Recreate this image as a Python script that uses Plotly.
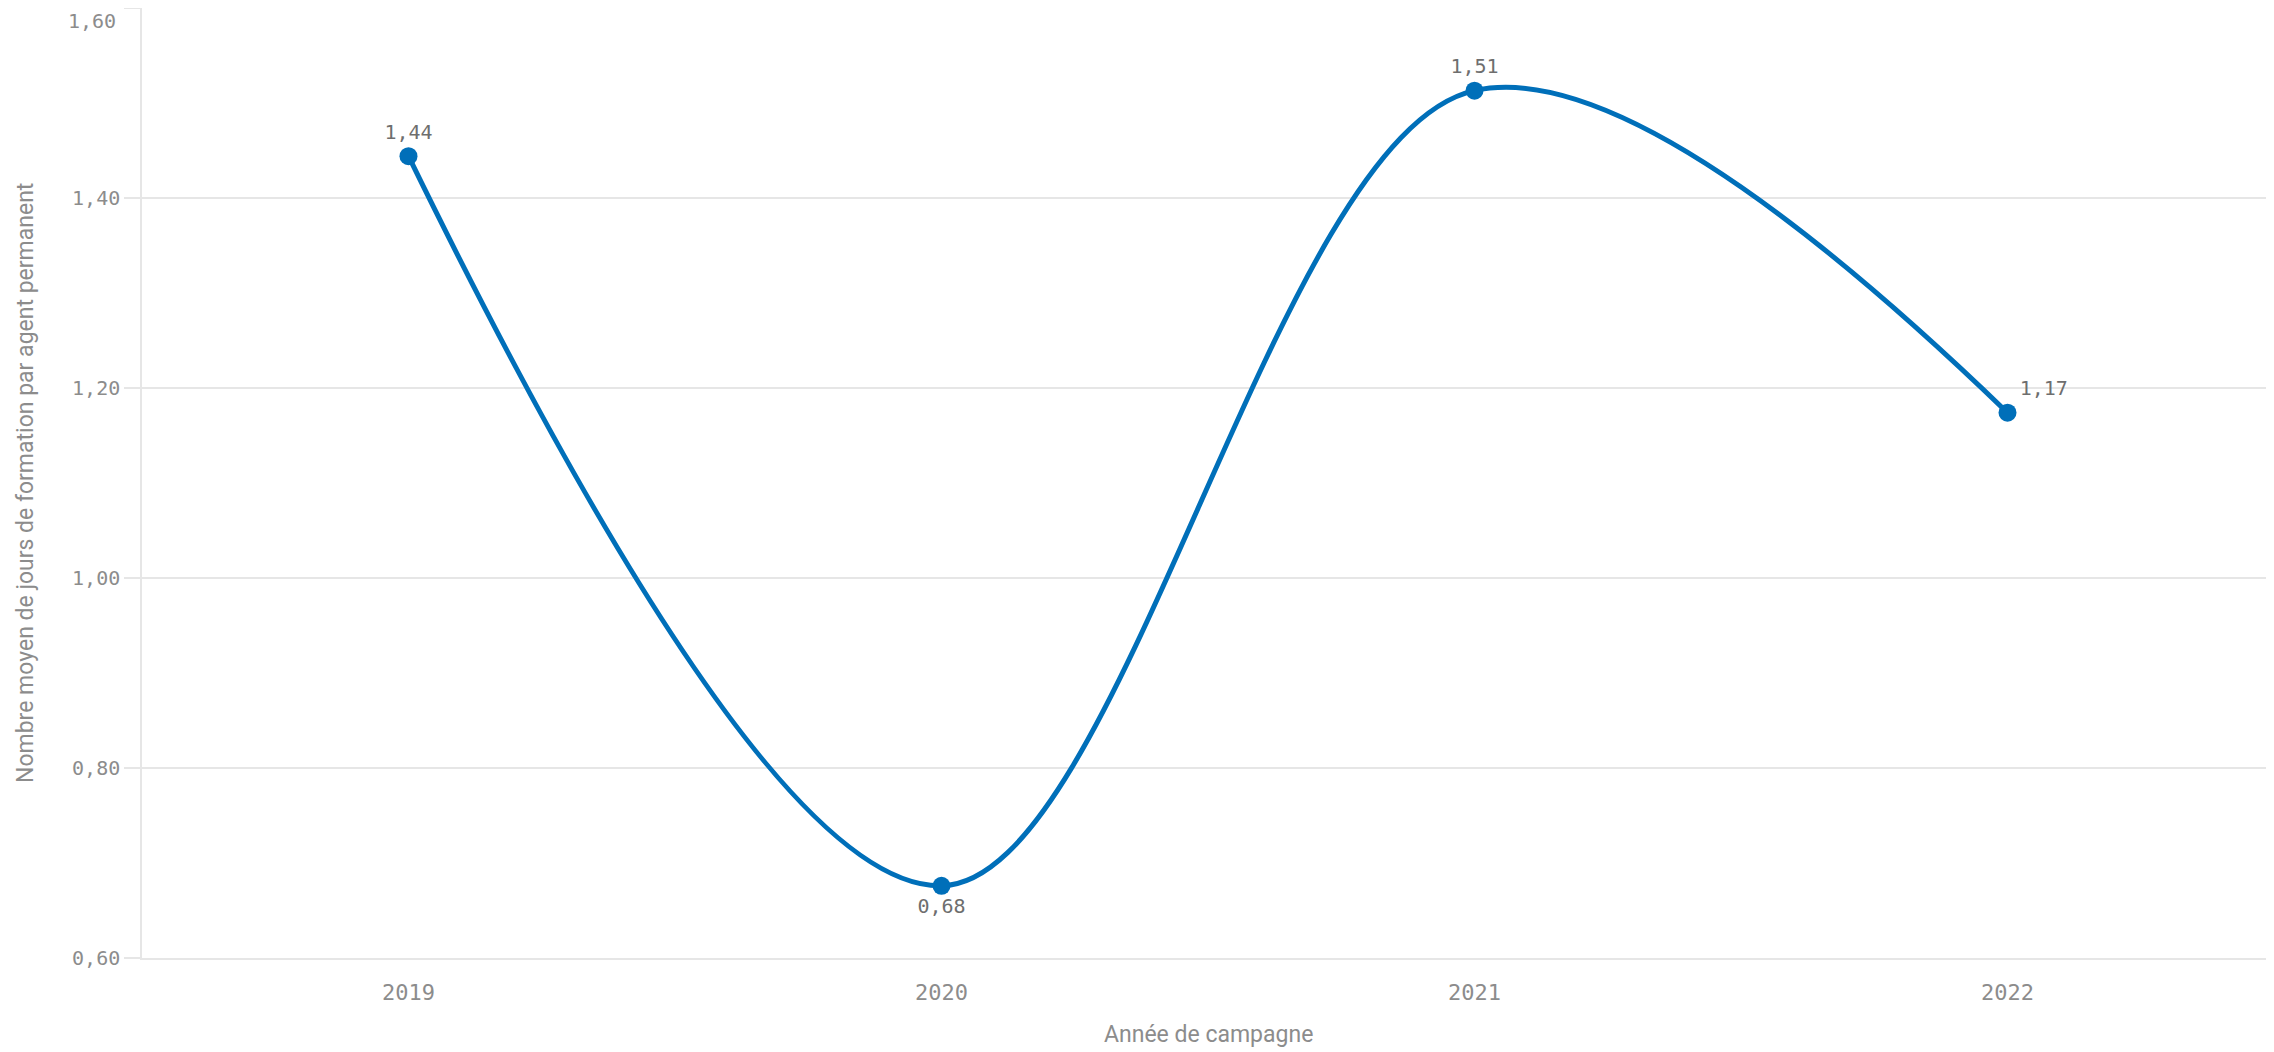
import plotly.graph_objects as go

years = ["2019", "2020", "2021", "2022"]
values = [1.444, 0.676, 1.513, 1.174]
labels = ["1,44", "0,68", "1,51", "1,17"]
label_pos = ["top center", "bottom center", "top center", "top right"]
y_ticks = [0.6, 0.8, 1.0, 1.2, 1.4, 1.6]
y_ticktext = ["0,60", "0,80", "1,00", "1,20", "1,40", ""]
top_tick_label = "1,60"
x_title = "Année de campagne"
y_title = "Nombre moyen de jours de formation par agent permanent"

BLUE = "#006FB9"
GRID = "#E6E6E6"
TICKC = "#8C8C8C"

fig = go.Figure()
fig.add_trace(go.Scatter(
    x=years, y=values,
    mode="lines+markers+text",
    line=dict(color=BLUE, width=5, shape="spline", smoothing=1.0),
    marker=dict(color=BLUE, size=18),
    text=labels, textposition=label_pos,
    textfont=dict(family="DejaVu Sans Mono", size=20, color="#6E6E6E"),
    cliponaxis=False,
    hoverinfo="x+y",
))

# top tick label is pushed inside the plot (below its gridline) as in the reference
fig.add_annotation(text=top_tick_label, xref="paper", yref="y", x=0, y=y_ticks[-1],
                   xshift=-24, yshift=-13, xanchor="right", yanchor="middle",
                   showarrow=False,
                   font=dict(family="DejaVu Sans Mono", size=20, color=TICKC))
fig.add_annotation(text=x_title, xref="paper", yref="paper", x=0.5, y=0,
                   yshift=-76, xanchor="center", yanchor="middle", showarrow=False,
                   font=dict(family="Roboto", size=23, color=TICKC))
fig.add_annotation(text=y_title, xref="paper", yref="paper", x=0, y=0.5,
                   xshift=-117, xanchor="center", yanchor="middle", textangle=-90,
                   showarrow=False, font=dict(family="Roboto", size=23, color=TICKC))

fig.update_layout(
    width=2266, height=1044,
    margin=dict(l=134, r=0, t=0, b=94),
    plot_bgcolor="white", paper_bgcolor="white",
    showlegend=False,
    separators=", ",
    xaxis=dict(
        type="category", range=[-0.5, 3.5], automargin=False,
        showgrid=False, zeroline=False,
        showline=True, mirror=True, linecolor=GRID, linewidth=1.5,
        tickfont=dict(family="DejaVu Sans Mono", size=22, color=TICKC),
        ticks="", ticklabelstandoff=14,
    ),
    yaxis=dict(
        range=[0.6, 1.6], tickvals=y_ticks, ticktext=y_ticktext, automargin=False,
        showgrid=True, gridcolor=GRID, gridwidth=1.5,
        zeroline=False, showline=True, linecolor=GRID, linewidth=1.5,
        ticks="outside", ticklen=16, tickcolor=GRID, tickwidth=1.5,
        tickfont=dict(family="DejaVu Sans Mono", size=20, color=TICKC),
    ),
)

fig.write_html("out.html")
